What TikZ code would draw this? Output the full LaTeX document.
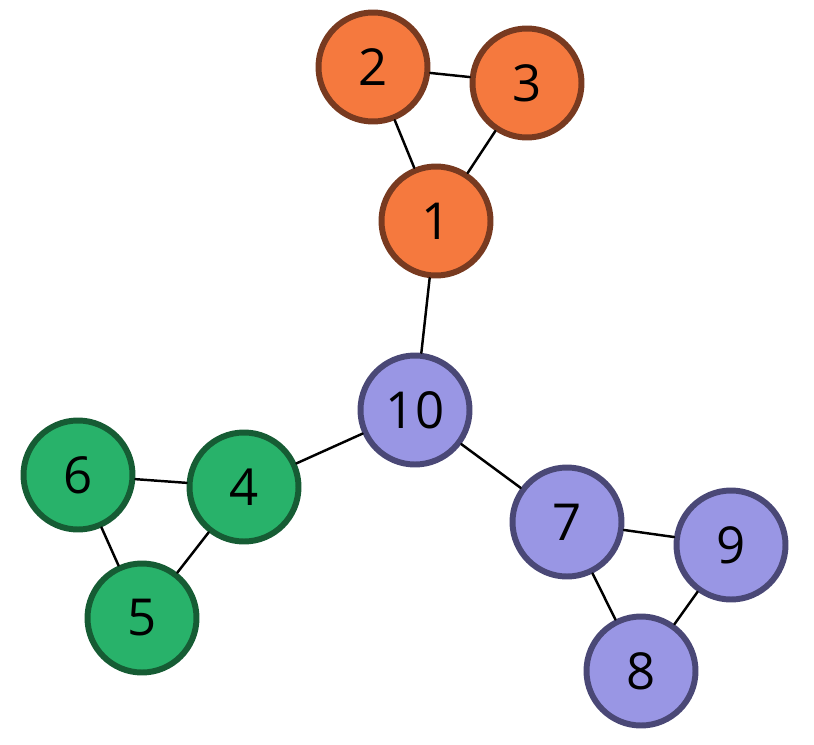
\documentclass[tikz,border=0pt]{standalone}
\usepackage{fontspec}
\setsansfont{Open Sans}
\usepackage{tikz}
\definecolor{groupA}{RGB}{245,121,62}
\definecolor{groupAline}{RGB}{120,58,32}
\definecolor{groupB}{RGB}{40,178,106}
\definecolor{groupBline}{RGB}{22,92,52}
\definecolor{groupC}{RGB}{153,150,228}
\definecolor{groupCline}{RGB}{74,72,118}
\tikzset{vertex/.style={circle,line width=3.4pt,minimum size=2.18cm,inner sep=0pt,
   font=\sffamily\fontsize{29}{32}\selectfont},
 orangev/.style={vertex,draw=groupAline,fill=groupA},
 greenv/.style={vertex,draw=groupBline,fill=groupB},
 bluev/.style={vertex,draw=groupCline,fill=groupC},
 link/.style={draw=black,line width=1.4pt},
 every picture/.style={line join=round,line cap=round}}

\begin{document}
\begin{tikzpicture}[]
\useasboundingbox (0,0) rectangle (16.28,14.88);
\node[orangev] (v1) at (8.720,10.460) {1};
\node[orangev] (v2) at (7.460,13.540) {2};
\node[orangev] (v3) at (10.540,13.220) {3};
\node[greenv] (v4) at (4.880,5.140) {4};
\node[greenv] (v5) at (2.840,2.520) {5};
\node[greenv] (v6) at (1.560,5.380) {6};
\node[bluev] (v7) at (11.340,4.440) {7};
\node[bluev] (v8) at (12.820,1.460) {8};
\node[bluev] (v9) at (14.620,3.980) {9};
\node[bluev] (v10) at (8.300,6.680) {10};
\draw[link] (v1) -- (v2);
\draw[link] (v1) -- (v3);
\draw[link] (v2) -- (v3);
\draw[link] (v1) -- (v10);
\draw[link] (v10) -- (v4);
\draw[link] (v4) -- (v6);
\draw[link] (v4) -- (v5);
\draw[link] (v5) -- (v6);
\draw[link] (v10) -- (v7);
\draw[link] (v7) -- (v9);
\draw[link] (v7) -- (v8);
\draw[link] (v8) -- (v9);
\end{tikzpicture}
\end{document}
